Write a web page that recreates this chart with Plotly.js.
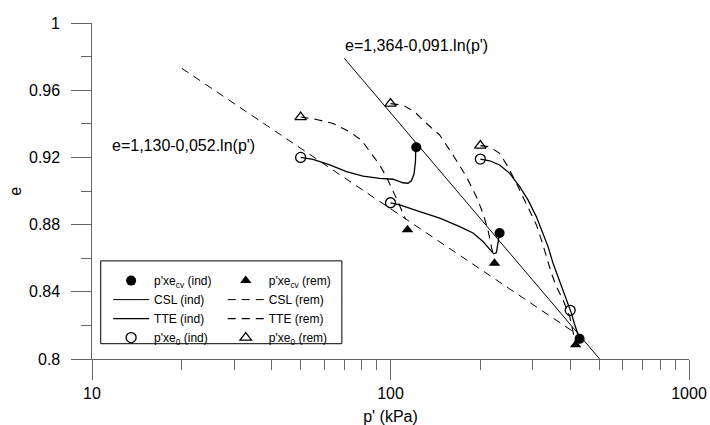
<!DOCTYPE html>
<html>
<head>
<meta charset="utf-8">
<script src="https://cdn.plot.ly/plotly-3.0.1.min.js"></script>
<style>html,body{margin:0;padding:0;background:#fff;}#chart{width:710px;height:425px;}</style>
</head>
<body>
<div id="chart"></div>
<script>
// ---- Data ----
// Initial states p'xe0
const e0IndP = [50, 100, 200, 400];
const e0IndE = [0.920, 0.893, 0.919, 0.829];
const e0RemP = [50, 100, 200];
const e0RemE = [0.944, 0.952, 0.927];
// Critical states p'xecv
const cvIndP = [122, 232, 430];
const cvIndE = [0.926, 0.875, 0.812];
const cvRemP = [114, 223, 417];
const cvRemE = [0.877, 0.857, 0.8085];
// Critical state lines (end points)
const cslIndP = [70, 502];
const cslIndE = [0.979, 0.800];
const cslRemP = [20, 462];
const cslRemE = [0.973, 0.810];
// Test paths (TTE) - induced
const tteInd1P = [50, 55.0, 62.6, 71.2, 80.9, 92.0, 101.9, 110.1, 114.4, 117.5, 119.9, 121.2, 121.5, 122.1];
const tteInd1E = [0.920, 0.9188, 0.9155, 0.9115, 0.9089, 0.9075, 0.9070, 0.9049, 0.9046, 0.9061, 0.9101, 0.9174, 0.9244, 0.926];
const tteInd2P = [100, 107.4, 125.3, 146.2, 170.5, 189.0, 204.1, 214.9, 221.7, 226.4, 228.7, 229.9, 232];
const tteInd2E = [0.893, 0.8917, 0.8877, 0.8838, 0.8788, 0.8750, 0.8699, 0.8654, 0.8626, 0.8633, 0.8679, 0.8728, 0.8752];
const tteInd3P = [200, 214.9, 232, 250.8, 270.9, 288.8, 308.2, 324.3, 337.1, 350.4, 364.2, 378.4, 393.3, 403.6, 414.1, 424.8, 430];
const tteInd3E = [0.919, 0.9180, 0.9155, 0.9105, 0.9026, 0.8947, 0.8847, 0.8749, 0.8669, 0.8570, 0.8491, 0.8412, 0.8333, 0.8273, 0.8204, 0.8144, 0.812];
// Test paths (TTE) - remoulded
const tteRem1P = [50, 56.5, 64.2, 73.0, 79.9, 86.3, 92.0, 96.9, 101.9, 105.9, 110.1, 112.4];
const tteRem1E = [0.944, 0.9426, 0.9402, 0.9352, 0.9303, 0.9224, 0.9155, 0.9085, 0.9006, 0.8936, 0.8867, 0.8832];
const tteRem2P = [100, 110.1, 120.5, 130.2, 146.2, 162.0, 179.6, 194.0, 204.1, 212.1, 217.8, 221.7];
const tteRem2E = [0.952, 0.9511, 0.9471, 0.9412, 0.9333, 0.9214, 0.9085, 0.8966, 0.8867, 0.8768, 0.8669, 0.8600];
const tteRem3P = [200, 214.9, 232, 247.5, 264.1, 277.9, 292.6, 308.2, 320.3, 333.0, 346.0, 359.5, 378.4, 398.4, 408.7, 414.1, 417];
const tteRem3E = [0.927, 0.9263, 0.9224, 0.9144, 0.9046, 0.8966, 0.8887, 0.8798, 0.8709, 0.8610, 0.8511, 0.8431, 0.8352, 0.8253, 0.8174, 0.8115, 0.8085];
// Axis ticks
const xTickVals = [10, 100, 1000];
const xTickText = ["10", "100", "1000"];
const xMinorVals = [20, 30, 40, 50, 60, 70, 80, 90, 200, 300, 400, 500, 600, 700, 800, 900];
const yTickVals = [0.8, 0.84, 0.88, 0.92, 0.96, 1.0];
const yTickText = ["0.8", "0.84", "0.88", "0.92", "0.96", "1"];
const yMinorVals = [0.82, 0.86, 0.90, 0.94, 0.98];
// Labels
const eqInd = "e=1,364-0,091.ln(p')";
const eqRem = "e=1,130-0,052.ln(p')";
const xTitle = "p' (kPa)";
const yTitle = "e";

function joinPaths(list) {
  const out = [];
  list.forEach((a, i) => { if (i > 0) out.push(null); a.forEach(v => out.push(v)); });
  return out;
}

const DASH = "8px,6px";
const traces = [
  {x: cvIndP, y: cvIndE, mode: 'markers', name: "p'xe<sub>cv</sub> (ind)", legend: 'legend',
   marker: {symbol: 'circle', size: 10, color: '#000'}},
  {x: cslIndP, y: cslIndE, mode: 'lines', name: 'CSL (ind)', legend: 'legend',
   line: {color: '#000', width: 1}},
  {x: joinPaths([tteInd1P, tteInd2P, tteInd3P]), y: joinPaths([tteInd1E, tteInd2E, tteInd3E]),
   mode: 'lines', name: 'TTE (ind)', legend: 'legend', connectgaps: false,
   line: {color: '#000', width: 1.3}},
  {x: e0IndP, y: e0IndE, mode: 'markers', name: "p'xe<sub>0</sub> (ind)", legend: 'legend',
   marker: {symbol: 'circle-open', size: 10, color: '#000', line: {width: 1.3}}},
  {x: cvRemP, y: cvRemE, mode: 'markers', name: "p'xe<sub>cv</sub> (rem)", legend: 'legend2',
   marker: {symbol: 'triangle-up', size: 10, color: '#000'}},
  {x: cslRemP, y: cslRemE, mode: 'lines', name: 'CSL (rem)', legend: 'legend2',
   line: {color: '#000', width: 1, dash: DASH}},
  {x: joinPaths([tteRem1P, tteRem2P, tteRem3P]), y: joinPaths([tteRem1E, tteRem2E, tteRem3E]),
   mode: 'lines', name: 'TTE (rem)', legend: 'legend2', connectgaps: false,
   line: {color: '#000', width: 1.1, dash: DASH}},
  {x: e0RemP, y: e0RemE, mode: 'markers', name: "p'xe<sub>0</sub> (rem)", legend: 'legend2',
   marker: {symbol: 'triangle-up-open', size: 10, color: '#000', line: {width: 1.3}}}
];

const FONT = 'Liberation Sans, Arial, sans-serif';
const AX = '#666';
const legendCommon = {
  bgcolor: 'rgba(0,0,0,0)', borderwidth: 0, font: {family: FONT, size: 12, color: '#000'},
  orientation: 'v', yanchor: 'top', xanchor: 'left', tracegroupgap: 0, itemwidth: 36
};

// y tick labels as text annotations (placed a little further from the ticks than Plotly's default)
const yLabelAnns = yTickVals.map((v, i) => ({
  xref: 'paper', yref: 'y', x: -0.0505, y: v, xanchor: 'right', yanchor: 'middle',
  text: yTickText[i], showarrow: false, font: {family: FONT, size: 16, color: '#000'}
}));

const layout = {
  width: 710, height: 425,
  margin: {l: 92, r: 21, t: 23, b: 66},
  paper_bgcolor: '#fff', plot_bgcolor: '#fff',
  font: {family: FONT, size: 16, color: '#000'},
  showlegend: true,
  legend: Object.assign({}, legendCommon, {x: 0.027, y: 0.2765}),
  legend2: Object.assign({}, legendCommon, {x: 0.219, y: 0.2765}),
  xaxis: {
    type: 'log', range: [1, 3], showgrid: false, zeroline: false,
    showline: true, linecolor: AX, linewidth: 1,
    tickmode: 'array', tickvals: xTickVals, ticktext: xTickText,
    ticks: 'outside', ticklen: 20, tickcolor: AX, tickwidth: 1,
    tickfont: {family: FONT, size: 16, color: '#000'},
    minor: {tickmode: 'array', tickvals: xMinorVals, ticks: 'outside', ticklen: 10, tickcolor: AX, tickwidth: 1, showgrid: false},
    title: {text: xTitle, font: {family: FONT, size: 16, color: '#000'}, standoff: 12}
  },
  yaxis: {
    range: [0.8, 1], showgrid: false, zeroline: false,
    showline: true, linecolor: AX, linewidth: 1,
    tickmode: 'array', tickvals: yTickVals, showticklabels: false,
    ticks: 'outside', ticklen: 20, tickcolor: AX, tickwidth: 1,
    minor: {tickmode: 'array', tickvals: yMinorVals, ticks: 'outside', ticklen: 10, tickcolor: AX, tickwidth: 1, showgrid: false}
  },
  shapes: [
    {type: 'rect', xref: 'paper', yref: 'paper', x0: 0.0146, x1: 0.4185, y0: 0.0455, y1: 0.292,
     line: {color: '#000', width: 1}, fillcolor: '#fff', layer: 'above'}
  ],
  annotations: [
    {xref: 'paper', yref: 'paper', x: 0.4205, y: 0.9338, xanchor: 'left', yanchor: 'middle',
     text: eqInd, showarrow: false, font: {family: FONT, size: 16, color: '#000'}},
    {xref: 'paper', yref: 'paper', x: 0.0297, y: 0.6367, xanchor: 'left', yanchor: 'middle',
     text: eqRem, showarrow: false, font: {family: FONT, size: 16, color: '#000'}},
    {xref: 'paper', yref: 'paper', x: -0.1295, y: 0.5, xanchor: 'center', yanchor: 'middle',
     text: yTitle, textangle: -90, showarrow: false, font: {family: FONT, size: 16, color: '#000'}}
  ].concat(yLabelAnns)
};

Plotly.newPlot('chart', traces, layout, {displayModeBar: false, staticPlot: true});
</script>
</body>
</html>
